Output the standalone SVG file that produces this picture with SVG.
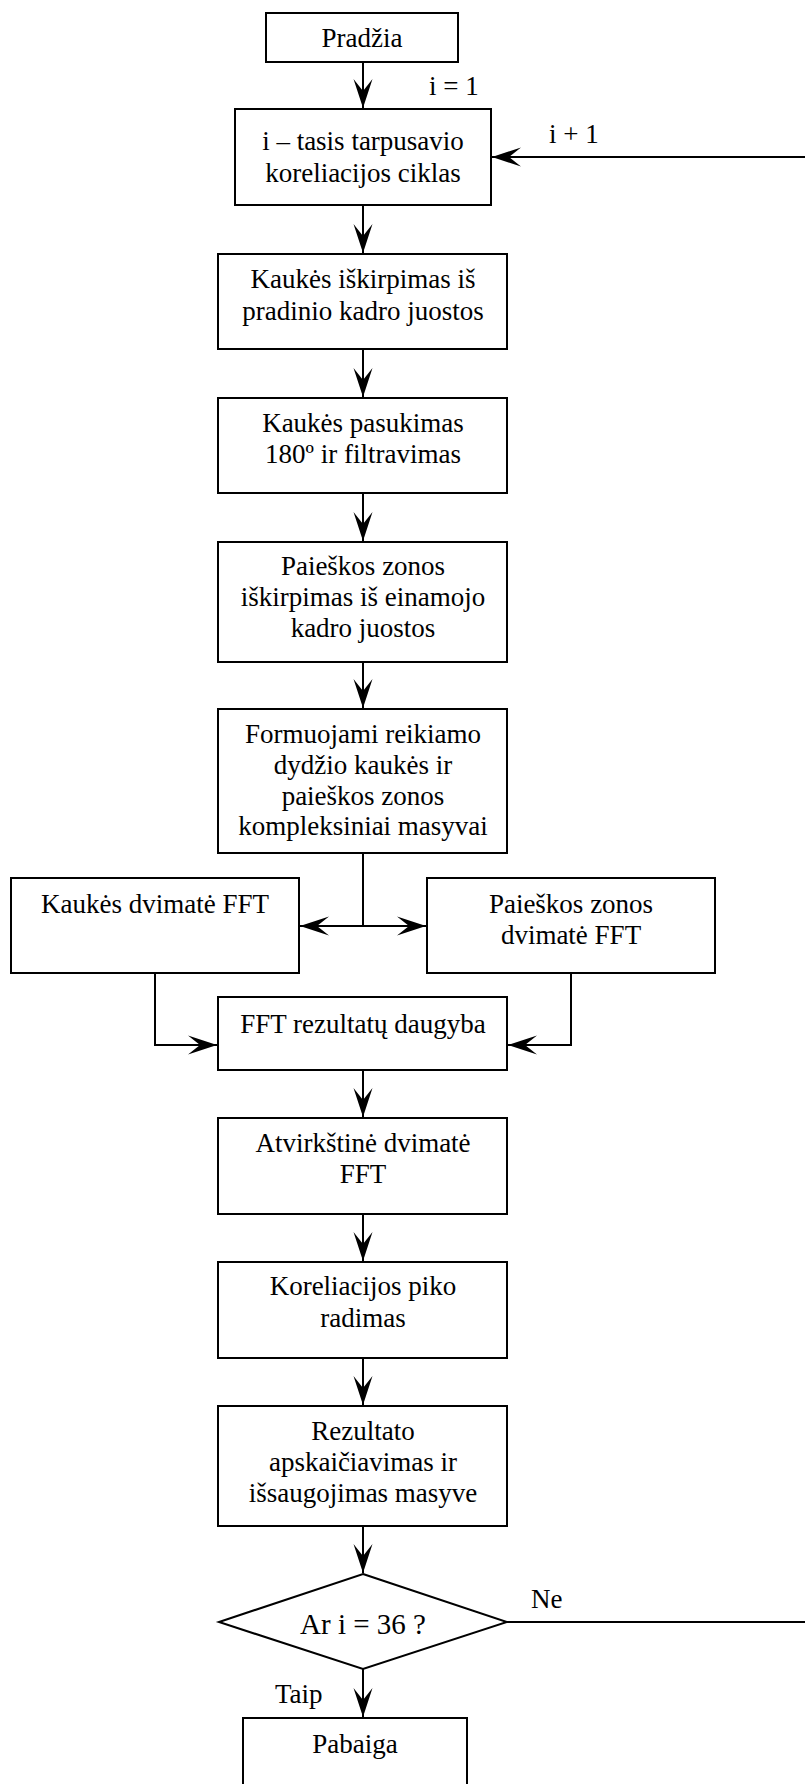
<svg xmlns="http://www.w3.org/2000/svg" width="805" height="1784" viewBox="0 0 805 1784">
<style>
.b{fill:#fff;stroke:#000;stroke-width:2}
.t{font-family:"Liberation Serif","Times New Roman",serif;font-size:27px;fill:#000;text-anchor:middle}
.l{font-family:"Liberation Serif","Times New Roman",serif;font-size:27px;fill:#000}
.c{fill:none;stroke:#000;stroke-width:2}
</style>
<defs>
<marker id="ah" viewBox="-30 -11 31 22" refX="0" refY="0" markerWidth="31" markerHeight="22" markerUnits="userSpaceOnUse" orient="auto">
<path d="M0,0 L-29,-9.5 L-17,0 L-29,9.5 Z" fill="#000"/>
</marker>
</defs>
<rect width="805" height="1784" fill="#fff"/>
<g id="connectors">
<line class="c" x1="363" y1="62" x2="363" y2="108" marker-end="url(#ah)"/>
<line class="c" x1="805" y1="157" x2="492" y2="157" marker-end="url(#ah)"/>
<line class="c" x1="363" y1="205" x2="363" y2="253" marker-end="url(#ah)"/>
<line class="c" x1="363" y1="349" x2="363" y2="397" marker-end="url(#ah)"/>
<line class="c" x1="363" y1="493" x2="363" y2="541" marker-end="url(#ah)"/>
<line class="c" x1="363" y1="662" x2="363" y2="708" marker-end="url(#ah)"/>
<line class="c" x1="363" y1="853" x2="363" y2="926"/>
<line class="c" x1="363" y1="926" x2="300" y2="926" marker-end="url(#ah)"/>
<line class="c" x1="363" y1="926" x2="426" y2="926" marker-end="url(#ah)"/>
<polyline class="c" points="155,973 155,1045 217,1045" marker-end="url(#ah)"/>
<polyline class="c" points="571,973 571,1045 508,1045" marker-end="url(#ah)"/>
<line class="c" x1="363" y1="1070" x2="363" y2="1117" marker-end="url(#ah)"/>
<line class="c" x1="363" y1="1214" x2="363" y2="1261" marker-end="url(#ah)"/>
<line class="c" x1="363" y1="1358" x2="363" y2="1405" marker-end="url(#ah)"/>
<line class="c" x1="363" y1="1526" x2="363" y2="1573" marker-end="url(#ah)"/>
<line class="c" x1="507" y1="1622" x2="805" y2="1622"/>
<line class="c" x1="363" y1="1669" x2="363" y2="1717" marker-end="url(#ah)"/>
<text class="l" x="429" y="95">i = 1</text>
<text class="l" x="549" y="143">i + 1</text>
<text class="l" x="531" y="1608">Ne</text>
<text class="l" x="275" y="1703">Taip</text>
</g>
<g id="start">
<rect class="b" x="266" y="13" width="192" height="49"/>
<text class="t" x="362" y="47">Pradžia</text>
</g>
<g id="loop">
<rect class="b" x="235" y="109" width="256" height="96"/>
<text class="t" x="363" y="150">i – tasis tarpusavio</text>
<text class="t" x="363" y="182">koreliacijos ciklas</text>
</g>
<g id="mask-cut">
<rect class="b" x="218" y="254" width="289" height="95"/>
<text class="t" x="363" y="288">Kaukės iškirpimas iš</text>
<text class="t" x="363" y="320">pradinio kadro juostos</text>
</g>
<g id="mask-rotate">
<rect class="b" x="218" y="398" width="289" height="95"/>
<text class="t" x="363" y="432">Kaukės pasukimas</text>
<text class="t" x="363" y="463">180º ir filtravimas</text>
</g>
<g id="search-cut">
<rect class="b" x="218" y="542" width="289" height="120"/>
<text class="t" x="363" y="575">Paieškos zonos</text>
<text class="t" x="363" y="606">iškirpimas iš einamojo</text>
<text class="t" x="363" y="637">kadro juostos</text>
</g>
<g id="form-arrays">
<rect class="b" x="218" y="709" width="289" height="144"/>
<text class="t" x="363" y="743">Formuojami reikiamo</text>
<text class="t" x="363" y="774">dydžio kaukės ir</text>
<text class="t" x="363" y="805">paieškos zonos</text>
<text class="t" x="363" y="835">kompleksiniai masyvai</text>
</g>
<g id="mask-fft">
<rect class="b" x="11" y="878" width="288" height="95"/>
<text class="t" x="155" y="913">Kaukės dvimatė FFT</text>
</g>
<g id="search-fft">
<rect class="b" x="427" y="878" width="288" height="95"/>
<text class="t" x="571" y="913">Paieškos zonos</text>
<text class="t" x="571" y="944">dvimatė FFT</text>
</g>
<g id="multiply">
<rect class="b" x="218" y="997" width="289" height="73"/>
<text class="t" x="363" y="1033">FFT rezultatų daugyba</text>
</g>
<g id="inverse-fft">
<rect class="b" x="218" y="1118" width="289" height="96"/>
<text class="t" x="363" y="1152">Atvirkštinė dvimatė</text>
<text class="t" x="363" y="1183">FFT</text>
</g>
<g id="peak">
<rect class="b" x="218" y="1262" width="289" height="96"/>
<text class="t" x="363" y="1295">Koreliacijos piko</text>
<text class="t" x="363" y="1327">radimas</text>
</g>
<g id="result">
<rect class="b" x="218" y="1406" width="289" height="120"/>
<text class="t" x="363" y="1440">Rezultato</text>
<text class="t" x="363" y="1471">apskaičiavimas ir</text>
<text class="t" x="363" y="1502">išsaugojimas masyve</text>
</g>
<g id="decision">
<polygon class="b" points="363,1574 507,1622 363,1669 219,1622"/>
<text class="t" x="363" y="1634" style="font-size:29px">Ar i = 36 ?</text>
</g>
<g id="end">
<rect class="b" x="243" y="1718" width="224" height="90"/>
<text class="t" x="355" y="1753">Pabaiga</text>
</g>
</svg>
